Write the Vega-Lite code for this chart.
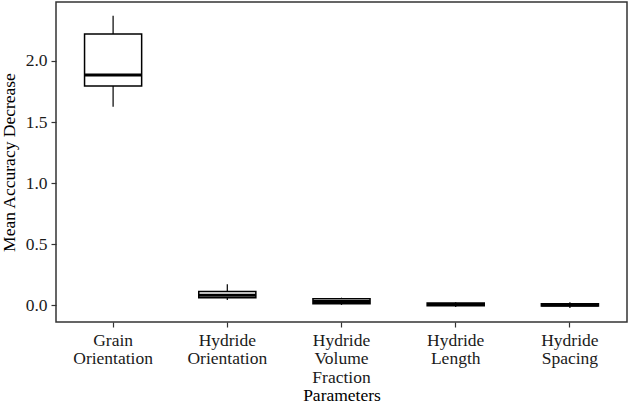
{
  "$schema": "https://vega.github.io/schema/vega-lite/v6.json",
  "width": 571,
  "height": 320,
  "autosize": {"type": "none"},
  "padding": {"left": 56, "top": 2, "right": 2, "bottom": 84},
  "background": "white",
  "config": {
    "font": "Liberation Serif",
    "view": {"stroke": "#333333", "strokeWidth": 1.5},
    "axis": {
      "labelFont": "Liberation Serif",
      "titleFont": "Liberation Serif",
      "labelFontSize": 17.5,
      "titleFontSize": 17.5,
      "titleFontWeight": "normal",
      "labelColor": "#1a1a1a",
      "titleColor": "#000000",
      "tickColor": "#333333",
      "tickWidth": 1.2,
      "tickSize": 5,
      "domain": false,
      "grid": false
    }
  },
  "data": {
    "values": [
      {"param": "Grain Orientation", "lower": 1.626, "q1": 1.795, "median": 1.885, "q3": 2.22, "upper": 2.37},
      {"param": "Hydride Orientation", "lower": 0.043, "q1": 0.062, "median": 0.082, "q3": 0.112, "upper": 0.172},
      {"param": "Hydride Volume Fraction", "lower": 0.003, "q1": 0.012, "median": 0.03, "q3": 0.053, "upper": 0.062},
      {"param": "Hydride Length", "lower": -0.014, "q1": -0.004, "median": 0.007, "q3": 0.018, "upper": 0.025},
      {"param": "Hydride Spacing", "lower": -0.022, "q1": -0.007, "median": 0.003, "q3": 0.012, "upper": 0.025}
    ]
  },
  "encoding": {
    "x": {
      "field": "param",
      "type": "nominal",
      "sort": null,
      "scale": {"paddingInner": 0, "paddingOuter": 0},
      "axis": {
        "title": "Parameters",
        "labelAngle": 0,
        "labelPadding": 4,
        "labelLineHeight": 18.5,
        "labelBaseline": "top",
        "titlePadding": 1,
        "labelExpr": "split(datum.label, ' ')"
      }
    }
  },
  "layer": [
    {
      "mark": {"type": "rule", "color": "#000000", "strokeWidth": 1.2},
      "encoding": {
        "y": {
          "field": "lower",
          "type": "quantitative",
          "scale": {"domain": [-0.137, 2.483], "nice": false, "zero": false},
          "axis": {
            "title": "Mean Accuracy Decrease",
            "values": [0, 0.5, 1.0, 1.5, 2.0],
            "format": ".1f",
            "labelPadding": 4,
            "titlePadding": 7
          }
        },
        "y2": {"field": "upper"}
      }
    },
    {
      "mark": {"type": "bar", "fill": "white", "stroke": "#000000", "strokeWidth": 1.5, "width": {"band": 0.5}},
      "encoding": {
        "y": {"field": "q1", "type": "quantitative"},
        "y2": {"field": "q3"}
      }
    },
    {
      "mark": {"type": "tick", "color": "#000000", "opacity": 1, "thickness": 3, "size": 57},
      "encoding": {
        "y": {"field": "median", "type": "quantitative"}
      }
    }
  ]
}
